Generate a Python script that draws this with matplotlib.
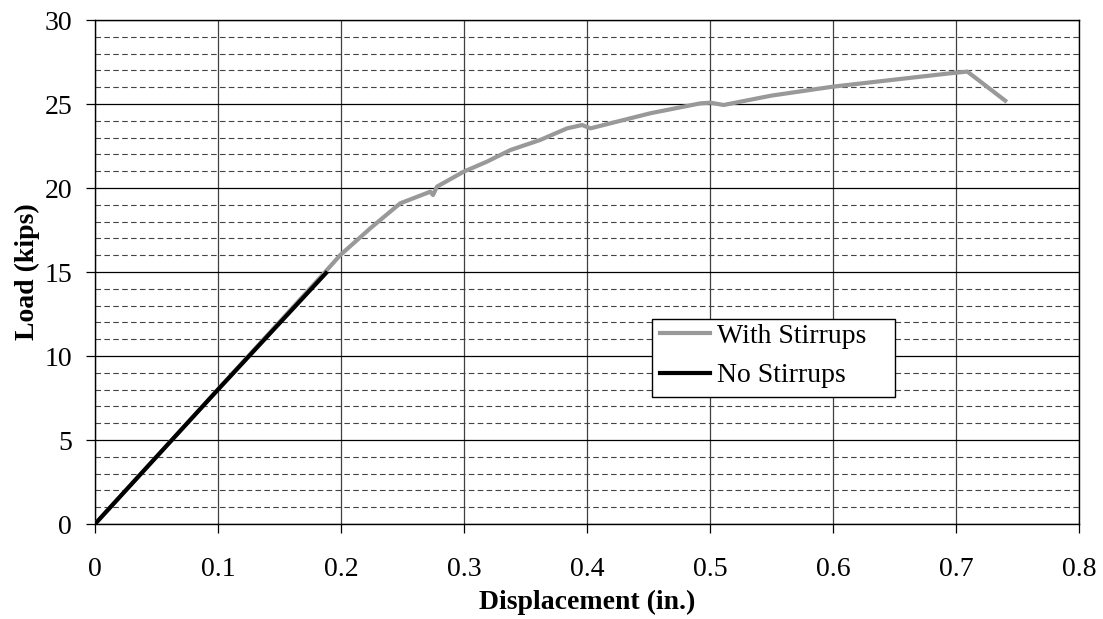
import numpy as np
import matplotlib.pyplot as plt
from matplotlib.patches import Rectangle
from matplotlib.ticker import MultipleLocator

# Load-displacement data
with_disp = [0.0, 0.1871, 0.1993, 0.2238, 0.2482, 0.2726, 0.2748, 0.278, 0.2997, 0.3187,
             0.3377, 0.362, 0.3838, 0.396, 0.4028, 0.4244, 0.4516, 0.4923, 0.5004, 0.511,
             0.55, 0.6007, 0.65, 0.6957, 0.7092, 0.740]
with_load = [0.0, 15.0, 16.0, 17.6, 19.09, 19.78, 19.58, 20.08, 20.97, 21.57,
             22.26, 22.86, 23.55, 23.75, 23.55, 23.95, 24.45, 25.04, 25.08, 24.94,
             25.5, 26.04, 26.45, 26.83, 26.93, 25.2]

no_disp = [0.0, 0.1, 0.1877]
no_load = [0.0, 8.0, 14.93]

x_ticks = [0, 0.1, 0.2, 0.3, 0.4, 0.5, 0.6, 0.7, 0.8]
x_labels = ['0', '0.1', '0.2', '0.3', '0.4', '0.5', '0.6', '0.7', '0.8']

plt.rcParams['font.family'] = ['Liberation Serif', 'DejaVu Serif']
plt.rcParams['font.size'] = 20

W, H = 1103, 619
fig = plt.figure(figsize=(W / 100, H / 100), dpi=100)
ax = fig.add_axes([95 / W, 1 - 524 / H, (1079 - 95) / W, (524 - 20) / H])

ax.plot(with_disp, with_load, color='#999999', lw=3, label='With Stirrups', zorder=3)
ax.plot(no_disp, no_load, color='black', lw=3, label='No Stirrups', zorder=4)

ax.set_xlim(0, 0.8)
ax.set_ylim(0, 30)
ax.set_xticks(x_ticks)
ax.set_xticklabels(x_labels)
ax.yaxis.set_major_locator(MultipleLocator(5))
ax.yaxis.set_minor_locator(MultipleLocator(1))

ax.grid(True, which='major', axis='x', color='#404040', lw=0.9)
ax.grid(True, which='major', axis='y', color='black', lw=0.9)
ax.grid(True, which='minor', axis='y', color='#444444', lw=0.8, ls=(0, (5, 3)))
ax.set_axisbelow(True)

ax.tick_params(axis='both', which='major', direction='out', length=6.5, width=0.9)
ax.tick_params(axis='x', pad=17)
ax.tick_params(axis='y', pad=10)
ax.tick_params(axis='y', which='minor', length=0)
for s in ax.spines.values():
    s.set_linewidth(1.0)
    s.set_color('black')

ax.set_xlabel('Displacement (in.)', fontweight='bold', labelpad=6)
ax.set_ylabel('Load (kips)', fontweight='bold', labelpad=3)

# legend frame drawn separately to get the wide right padding of the original
frame = Rectangle((652 / W, 1 - 397 / H), (895 - 652) / W, (397 - 319) / H,
                  transform=fig.transFigure, facecolor='white', edgecolor='black',
                  lw=1.0, zorder=6, clip_on=False)
ax.add_patch(frame)
leg = ax.legend(loc='upper left', bbox_to_anchor=(660 / W, 1 - 323.5 / H),
                bbox_transform=fig.transFigure, frameon=False,
                handlelength=1.8, handletextpad=0.25, labelspacing=0.5,
                borderpad=0, borderaxespad=0)
leg.set_zorder(7)

fig.savefig('out.png', dpi=100)
